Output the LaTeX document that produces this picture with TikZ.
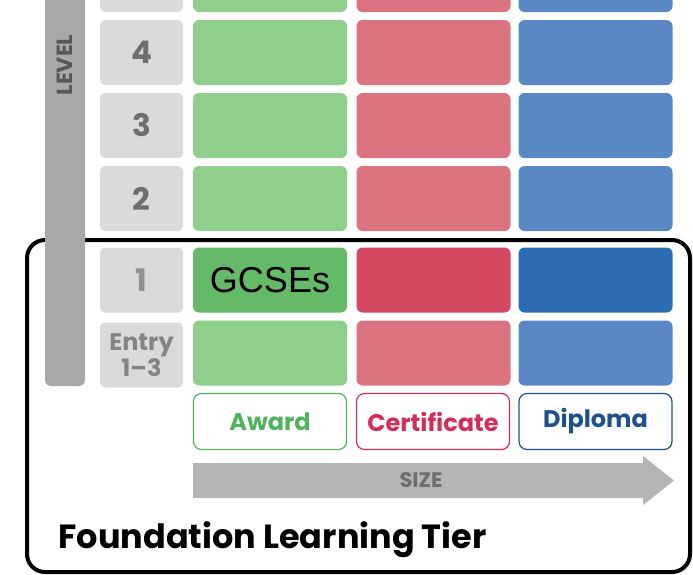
\documentclass[tikz,border=0pt]{standalone}
\usepackage{fontspec}
\setmainfont{Poppins}
\newfontfamily\arialfont{Liberation Sans}
\usetikzlibrary{positioning}
\definecolor{greenlt}{RGB}{141,207,139}
\definecolor{greendk}{RGB}{100,186,102}
\definecolor{redlt}{RGB}{219,116,128}
\definecolor{reddk}{RGB}{214,72,98}
\definecolor{bluelt}{RGB}{90,136,196}
\definecolor{bluedk}{RGB}{44,108,176}
\definecolor{boxgray}{RGB}{218,218,218}
\definecolor{bargray}{RGB}{168,168,168}
\definecolor{numgray}{RGB}{110,110,110}
\definecolor{arrowgray}{RGB}{180,180,180}
\definecolor{awardgreen}{RGB}{80,178,90}
\definecolor{certred}{RGB}{212,45,85}
\definecolor{diplblue}{RGB}{30,80,140}

\tikzset{
  cell/.style={rounded corners=6pt, minimum width=154pt, minimum height=65pt, inner sep=0pt},
  lvlbox/.style={rounded corners=5pt, fill=boxgray, minimum width=83pt, minimum height=65pt, inner sep=0pt,
    text=numgray, font=\bfseries\fontsize{31}{31}\selectfont},
  sizebox/.style={rounded corners=8pt, draw, line width=1.2pt, fill=white, minimum width=153pt, minimum height=56pt,
    inner sep=0pt, font=\bfseries\fontsize{24}{24}\selectfont}
}

\begin{document}
\begin{tikzpicture}[x=1pt, y=-1pt]
    \useasboundingbox (0,0) rectangle (693,574);
    \clip (0,0) rectangle (693,574);

    % draw tier frame
    \draw[line width=4pt, rounded corners=18pt] (27,240) rectangle (690,572);

    % draw level bar
    \fill[bargray, rounded corners=6pt] (45,-20) rectangle (85,386);
    \node[rotate=90, text=numgray!80!black, font=\bfseries\fontsize{22}{22}\selectfont] (level) at (65,65) {LEVEL};

    % draw level boxes
    \node[lvlbox] (lvl5) at (141.5,-20.5) {};
    \foreach \n/\y in {4/52.5, 3/125.5, 2/198.5}
      \node[lvlbox] (lvl\n) at (141.5,\y) {\n};
    \node[lvlbox, text=numgray!75] (lvl1) at (141.5,280) {1};
    \node[lvlbox, align=center, text=numgray!85, font=\bfseries\fontsize{24}{24}\selectfont] (lvlentry) at (141.5,355) {Entry\\1--3};

    % draw grid cells
    \foreach \y/\r in {-20.5/5, 52.5/4, 125.5/3, 198.5/2, 353/0} {
      \node[cell, fill=greenlt] (award\r) at (270,\y) {};
      \node[cell, fill=redlt] (cert\r) at (433.5,\y) {};
      \node[cell, fill=bluelt] (dipl\r) at (595.5,\y) {};
    }
    \node[cell, fill=greendk, font=\arialfont\fontsize{36}{36}\selectfont] (award1) at (270,280) {GCSEs};
    \node[cell, fill=reddk] (cert1) at (433.5,280) {};
    \node[cell, fill=bluedk] (dipl1) at (595.5,280) {};

    % draw size labels
    \node[sizebox, draw=awardgreen, text=awardgreen] (award) at (270,421.5) {Award};
    \node[sizebox, draw=certred, text=certred] (cert) at (433,421.5) {Certificate};
    \node[sizebox, draw=diplblue, text=diplblue] (dipl) at (595.5,421.5) {Diploma};

    % draw size arrow
    \fill[arrowgray] (193,463) -- (643,463) -- (643,456) -- (674,480.5) -- (643,505) -- (643,498) -- (193,498) -- cycle;
    \node[text=numgray, font=\bfseries\fontsize{21}{21}\selectfont] (sizelbl) at (421,480.5) {SIZE};

    % draw tier label
    \node[anchor=west, font=\bfseries\fontsize{33.5}{33.5}\selectfont] (tier) at (55,540) {Foundation Learning Tier};
\end{tikzpicture}
\end{document}
